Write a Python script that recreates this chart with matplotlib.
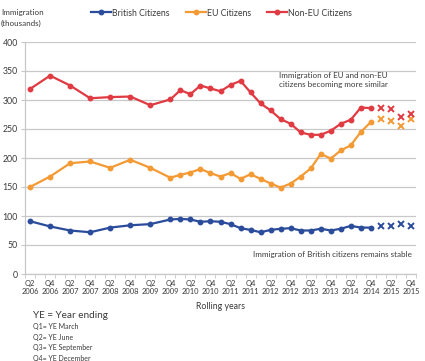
import matplotlib
matplotlib.use("Agg")
import matplotlib.pyplot as plt
from matplotlib.lines import Line2D
import numpy as np

# ---------------- data ----------------
quarters = [f"Q{q} {y}" for y in range(2006, 2016) for q in range(1, 5)][1:]  # Q2 2006 .. Q4 2015

obs_periods = ["Q2 2006", "Q4 2006", "Q2 2007", "Q4 2007", "Q2 2008", "Q4 2008",
               "Q2 2009", "Q4 2009",
               "Q1 2010", "Q2 2010", "Q3 2010", "Q4 2010",
               "Q1 2011", "Q2 2011", "Q3 2011", "Q4 2011",
               "Q1 2012", "Q2 2012", "Q3 2012", "Q4 2012",
               "Q1 2013", "Q2 2013", "Q3 2013", "Q4 2013",
               "Q1 2014", "Q2 2014", "Q3 2014", "Q4 2014"]
prov_periods = ["Q1 2015", "Q2 2015", "Q3 2015", "Q4 2015"]

british = [91, 82, 75, 72, 80, 84, 86, 94,
           95, 94, 90, 91, 90, 86, 79, 76, 72, 76, 78, 79,
           75, 75, 78, 75, 78, 83, 80, 80]
eu = [150, 168, 191, 194, 183, 197, 183, 166,
      171, 175, 181, 174, 168, 174, 164, 172, 164, 156, 149, 156,
      168, 182, 207, 199, 213, 222, 245, 262]
non_eu = [319, 342, 325, 303, 305, 306, 291, 301,
          317, 310, 325, 320, 315, 326, 333, 313, 294, 282, 267, 259,
          244, 240, 240, 247, 259, 266, 287, 286]

british_prov = [83, 83, 86, 82]
eu_prov = [267, 263, 255, 268]
non_eu_prov = [287, 284, 271, 276]

series_names = ["British Citizens", "EU Citizens", "Non-EU Citizens"]
yticks = [0, 50, 100, 150, 200, 250, 300, 350, 400]
tick_periods = quarters[::2]
tick_labels = [p.replace(" ", "\n") for p in tick_periods]

# ---------------- style ----------------
plt.rcParams['font.family'] = ['Lato', 'DejaVu Sans']
colors = ["#2B4C9B", "#F39A34", "#E03A42"]
text_col = "#3a3a3a"
grid_col = "#c8c8c8"

fig = plt.figure(figsize=(4.25, 3.61), dpi=100)
ax = fig.add_axes([25/425, 1-274/361, 391/425, 232/361])

xo = [quarters.index(p) for p in obs_periods]
xp = [quarters.index(p) for p in prov_periods]

for vals, prov, c in zip([british, eu, non_eu], [british_prov, eu_prov, non_eu_prov], colors):
    ax.plot(xo, vals, color=c, lw=1.6, marker='o', ms=3.2, zorder=3)
    ax.plot(xp, prov, color=c, lw=0, marker='x', ms=5, mew=1.4, zorder=3)

ax.set_xlim(-0.5, len(quarters) - 0.5)
ax.set_ylim(0, 400)
ax.set_yticks(yticks)
ax.set_yticklabels([str(v) for v in yticks], fontsize=6.3, color=text_col)
ax.yaxis.grid(True, color=grid_col, lw=0.9)
ax.set_axisbelow(True)
ax.tick_params(axis='y', length=3, color=grid_col, pad=2)

ax.set_xticks([quarters.index(p) for p in tick_periods])
ax.set_xticklabels(tick_labels, fontsize=5.4, color=text_col, linespacing=1.3)
ax.tick_params(axis='x', length=0, pad=4)
ax.set_xticks(np.arange(-0.5, len(quarters), 1.0), minor=True)
ax.tick_params(axis='x', which='minor', length=3, color=grid_col)

for s in ['top', 'right']:
    ax.spines[s].set_visible(False)
for s in ['left', 'bottom']:
    ax.spines[s].set_color(grid_col)
    ax.spines[s].set_linewidth(0.9)

ax.set_xlabel("Rolling years", fontsize=6.3, color=text_col, labelpad=5)

# annotations
ax.text(24.8, 334, "Immigration of EU and non-EU\ncitizens becoming more similar",
        fontsize=5.8, color=text_col, va='center', ha='left', linespacing=1.4)
ax.text(22.2, 34, "Immigration of British citizens remains stable",
        fontsize=5.8, color=text_col, va='center', ha='left')

# y-axis title
fig.text(1/425, 1-18/361, "Immigration\n(thousands)", fontsize=5.8, color=text_col,
         va='center', ha='left', linespacing=1.5)

# legend
handles = [Line2D([0], [0], color=c, lw=1.6, marker='o', ms=3.2) for c in colors]
fig.legend(handles, series_names, loc='center left', bbox_to_anchor=(83/425, 1-13/361),
           ncol=3, frameon=False, fontsize=6.3, handlelength=2.3, handletextpad=0.15,
           columnspacing=1.8, labelcolor=text_col)

# footnote
fig.text(33/425, 1-316/361, "YE = Year ending", fontsize=7.2, color=text_col, va='center', ha='left')
notes = ["Q1= YE March", "Q2= YE June", "Q3= YE September", "Q4= YE December"]
for i, n in enumerate(notes):
    fig.text(33/425, 1-(327 + i*10.4)/361, n, fontsize=5.0, color=text_col, va='center', ha='left')

fig.savefig("out.png", dpi=100, facecolor='white')
